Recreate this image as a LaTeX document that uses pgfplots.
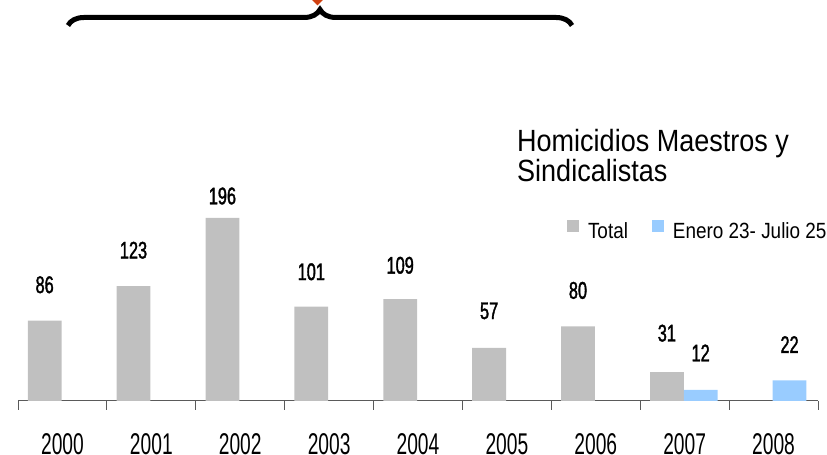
\documentclass[border=0pt]{standalone}
\usepackage{pgfplots}
\pgfplotsset{compat=1.18}
\usepackage{pgfplotstable}
\usepackage{fontspec}
\setmainfont{Liberation Sans}
\newfontfamily\condA[FakeStretch=0.64]{Liberation Sans}
\newfontfamily\condD[FakeStretch=0.68, FakeBold=1.5]{Liberation Sans}
\newfontfamily\condB[FakeStretch=0.86]{Liberation Sans}
\newfontfamily\condC[FakeStretch=0.88]{Liberation Sans}
\usetikzlibrary{decorations.pathreplacing}
\definecolor{totalgray}{RGB}{192,192,192}
\definecolor{lightblue}{RGB}{153,204,255}
\definecolor{axgray}{RGB}{90,90,90}
\definecolor{diamondred}{RGB}{208,64,16}

\pgfplotstableread{
x y off
0 86 36
1 123 36
2 196 22
3 101 35
4 109 34
5 57 37
6 80 36
7 31 39
}\totaldata
\pgfplotstableread{
x y off
7 12 37
8 22 36
}\enerodata

\begin{document}
\begin{tikzpicture}[x=1bp,y=1bp]
\useasboundingbox (0,0) rectangle (827,455);
\begin{axis}[
  at={(18bp,54bp)}, anchor=south west,
  scale only axis, width=800bp, height=300bp,
  xmin=-0.5, xmax=8.5, ymin=0, ymax=321.2,
  axis x line*=bottom, axis y line=none,
  ytick=\empty,
  xtick={0,...,8},
  xticklabels={2000,2001,2002,2003,2004,2005,2006,2007,2008},
  major tick length=0pt,
  minor xtick={-0.5,0.5,...,8.5},
  minor tick length=9bp,
  tick align=outside,
  x axis line style={axgray, line width=1bp},
  minor tick style={axgray, line width=1bp},
  xticklabel style={font=\condA\fontsize{30bp}{30bp}\selectfont, text=black, inner sep=0pt, anchor=north, yshift=-32bp},
  legend style={at={(0.686,0.567)}, anchor=west, draw=none, fill=none, inner sep=0pt,
    font=\condB\fontsize{22bp}{22bp}\selectfont, legend columns=2,
    /tikz/every odd column/.append style={column sep=7bp},
    /tikz/every even column/.append style={column sep=22bp}},
  legend image code/.code={\fill[#1] (0bp,0bp) rectangle (12bp,12bp);},
  legend cell align=left,
]
\addplot[ybar, fill=totalgray, draw=none, bar width=0.38, bar shift=-0.2,
  nodes near coords, point meta=explicit symbolic,
  visualization depends on={\thisrow{off}\as\myoff},
  every node near coord/.append style={anchor=center, yshift=\myoff, xshift=-17.8bp, inner sep=0pt,
    font=\condD\fontsize{24bp}{24bp}\selectfont}]
  table[x=x, y=y, meta=y] {\totaldata};
\addlegendentry{Total}
\addplot[ybar, fill=lightblue, draw=none, bar width=0.38, bar shift=0.18,
  nodes near coords, point meta=explicit symbolic,
  visualization depends on={\thisrow{off}\as\myoff},
  every node near coord/.append style={anchor=center, yshift=\myoff, xshift=16bp, inner sep=0pt,
    font=\condD\fontsize{24bp}{24bp}\selectfont}]
  table[x=x, y=y, meta=y] {\enerodata};
\addlegendentry{Enero 23- Julio 25}
\end{axis}
\node[anchor=north west, inner sep=0pt, align=left,
  font=\condC\fontsize{30.7bp}{26bp}\selectfont] at (517,326) {Homicidios Maestros y\\Sindicalistas};
\draw[line width=5bp, decorate, decoration={brace, amplitude=16bp}] (68,429.5) -- (572,429.5);
\fill[diamondred] (311.5,455.7) -- (317.5,449.7) -- (323.5,455.7) -- (317.5,461.7) -- cycle;
\end{tikzpicture}
\end{document}
